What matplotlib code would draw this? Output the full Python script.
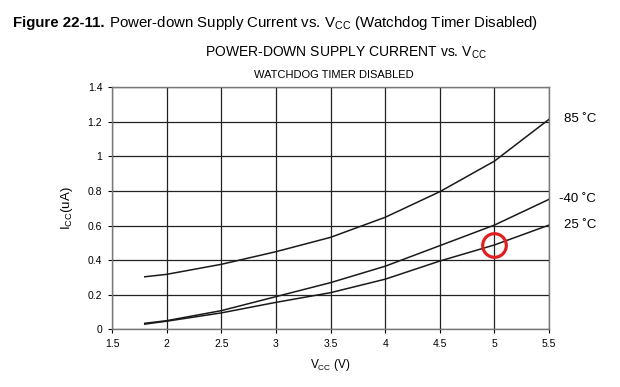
import matplotlib
matplotlib.use("Agg")
import matplotlib.pyplot as plt

plt.rcParams["font.family"] = ["Liberation Sans", "DejaVu Sans"]
plt.rcParams["mathtext.fontset"] = "custom"
plt.rcParams["mathtext.rm"] = "Liberation Sans"

# Values
vcc = [1.8, 2.0, 2.5, 3.0, 3.5, 4.0, 4.5, 5.0, 5.5]
icc_85 = [0.304, 0.318, 0.376, 0.449, 0.532, 0.648, 0.796, 0.973, 1.215]
icc_m40 = [0.035, 0.05, 0.108, 0.189, 0.27, 0.365, 0.484, 0.603, 0.752]
icc_25 = [0.03, 0.047, 0.095, 0.156, 0.212, 0.29, 0.395, 0.488, 0.603]
series = [("85 \u02daC", icc_85), ("-40 \u02daC", icc_m40), ("25 \u02daC", icc_25)]
marked = (5.0, 0.49)

xticks = [1.5, 2, 2.5, 3, 3.5, 4, 4.5, 5, 5.5]
xlabels = ["1.5", "2", "2.5", "3", "3.5", "4", "4.5", "5", "5.5"]
yticks = [0, 0.2, 0.4, 0.6, 0.8, 1.0, 1.2, 1.4]
ylabels = ["0", "0.2", "0.4", "0.6", "0.8", "1", "1.2", "1.4"]

fig = plt.figure(figsize=(6.2, 3.87), dpi=100)
ax = fig.add_axes([0.1806, 0.149, 0.705, 0.6255])

for label, vals in series:
    ax.plot(vcc, vals, color="#1a1a1a", lw=1.1)
    ax.annotate(label, xy=(5.5, vals[-1]), xytext=(34, 0),
                textcoords="offset points", va="center", ha="right",
                fontsize=9.5, annotation_clip=False)

ax.plot([marked[0]], [marked[1]], marker="o", ms=17, mfc="none",
        mec="#e02020", mew=2.3, zorder=5)

ax.set_xlim(1.5, 5.5)
ax.set_ylim(0, 1.4)
ax.set_xticks(xticks, xlabels)
ax.set_yticks(yticks, ylabels)
ax.tick_params(labelsize=7.5, length=3, width=0.8, direction="out", pad=4)
ax.grid(True, color="#222222", lw=0.9)
for s in ax.spines.values():
    s.set_color("#777777")
    s.set_linewidth(1.0)

ax.set_xlabel(r"V$_{\mathregular{CC}}$ (V)", fontsize=8.5, labelpad=6)
ax.set_ylabel(r"I$_{\mathregular{CC}}$(uA)", fontsize=9.5, labelpad=9)

fig.text(0.558, 0.863, r"POWER-DOWN SUPPLY CURRENT vs. V$_{\mathregular{CC}}$",
         ha="center", va="center", fontsize=10)
fig.text(0.539, 0.806, "WATCHDOG TIMER DISABLED", ha="center", va="center",
         fontsize=8)

t1 = fig.text(0.021, 0.94, "Figure 22-11.", fontsize=10.8, fontweight="bold",
              va="center", ha="left")
fig.text(0, 0, "", alpha=0)
plt.annotate(r" Power-down Supply Current vs. V$_{\mathregular{CC}}$ (Watchdog Timer Disabled)",
             xy=(1, 0.5), xycoords=t1, va="center", ha="left", fontsize=10.8,
             annotation_clip=False)

fig.savefig("out.png", dpi=100)
